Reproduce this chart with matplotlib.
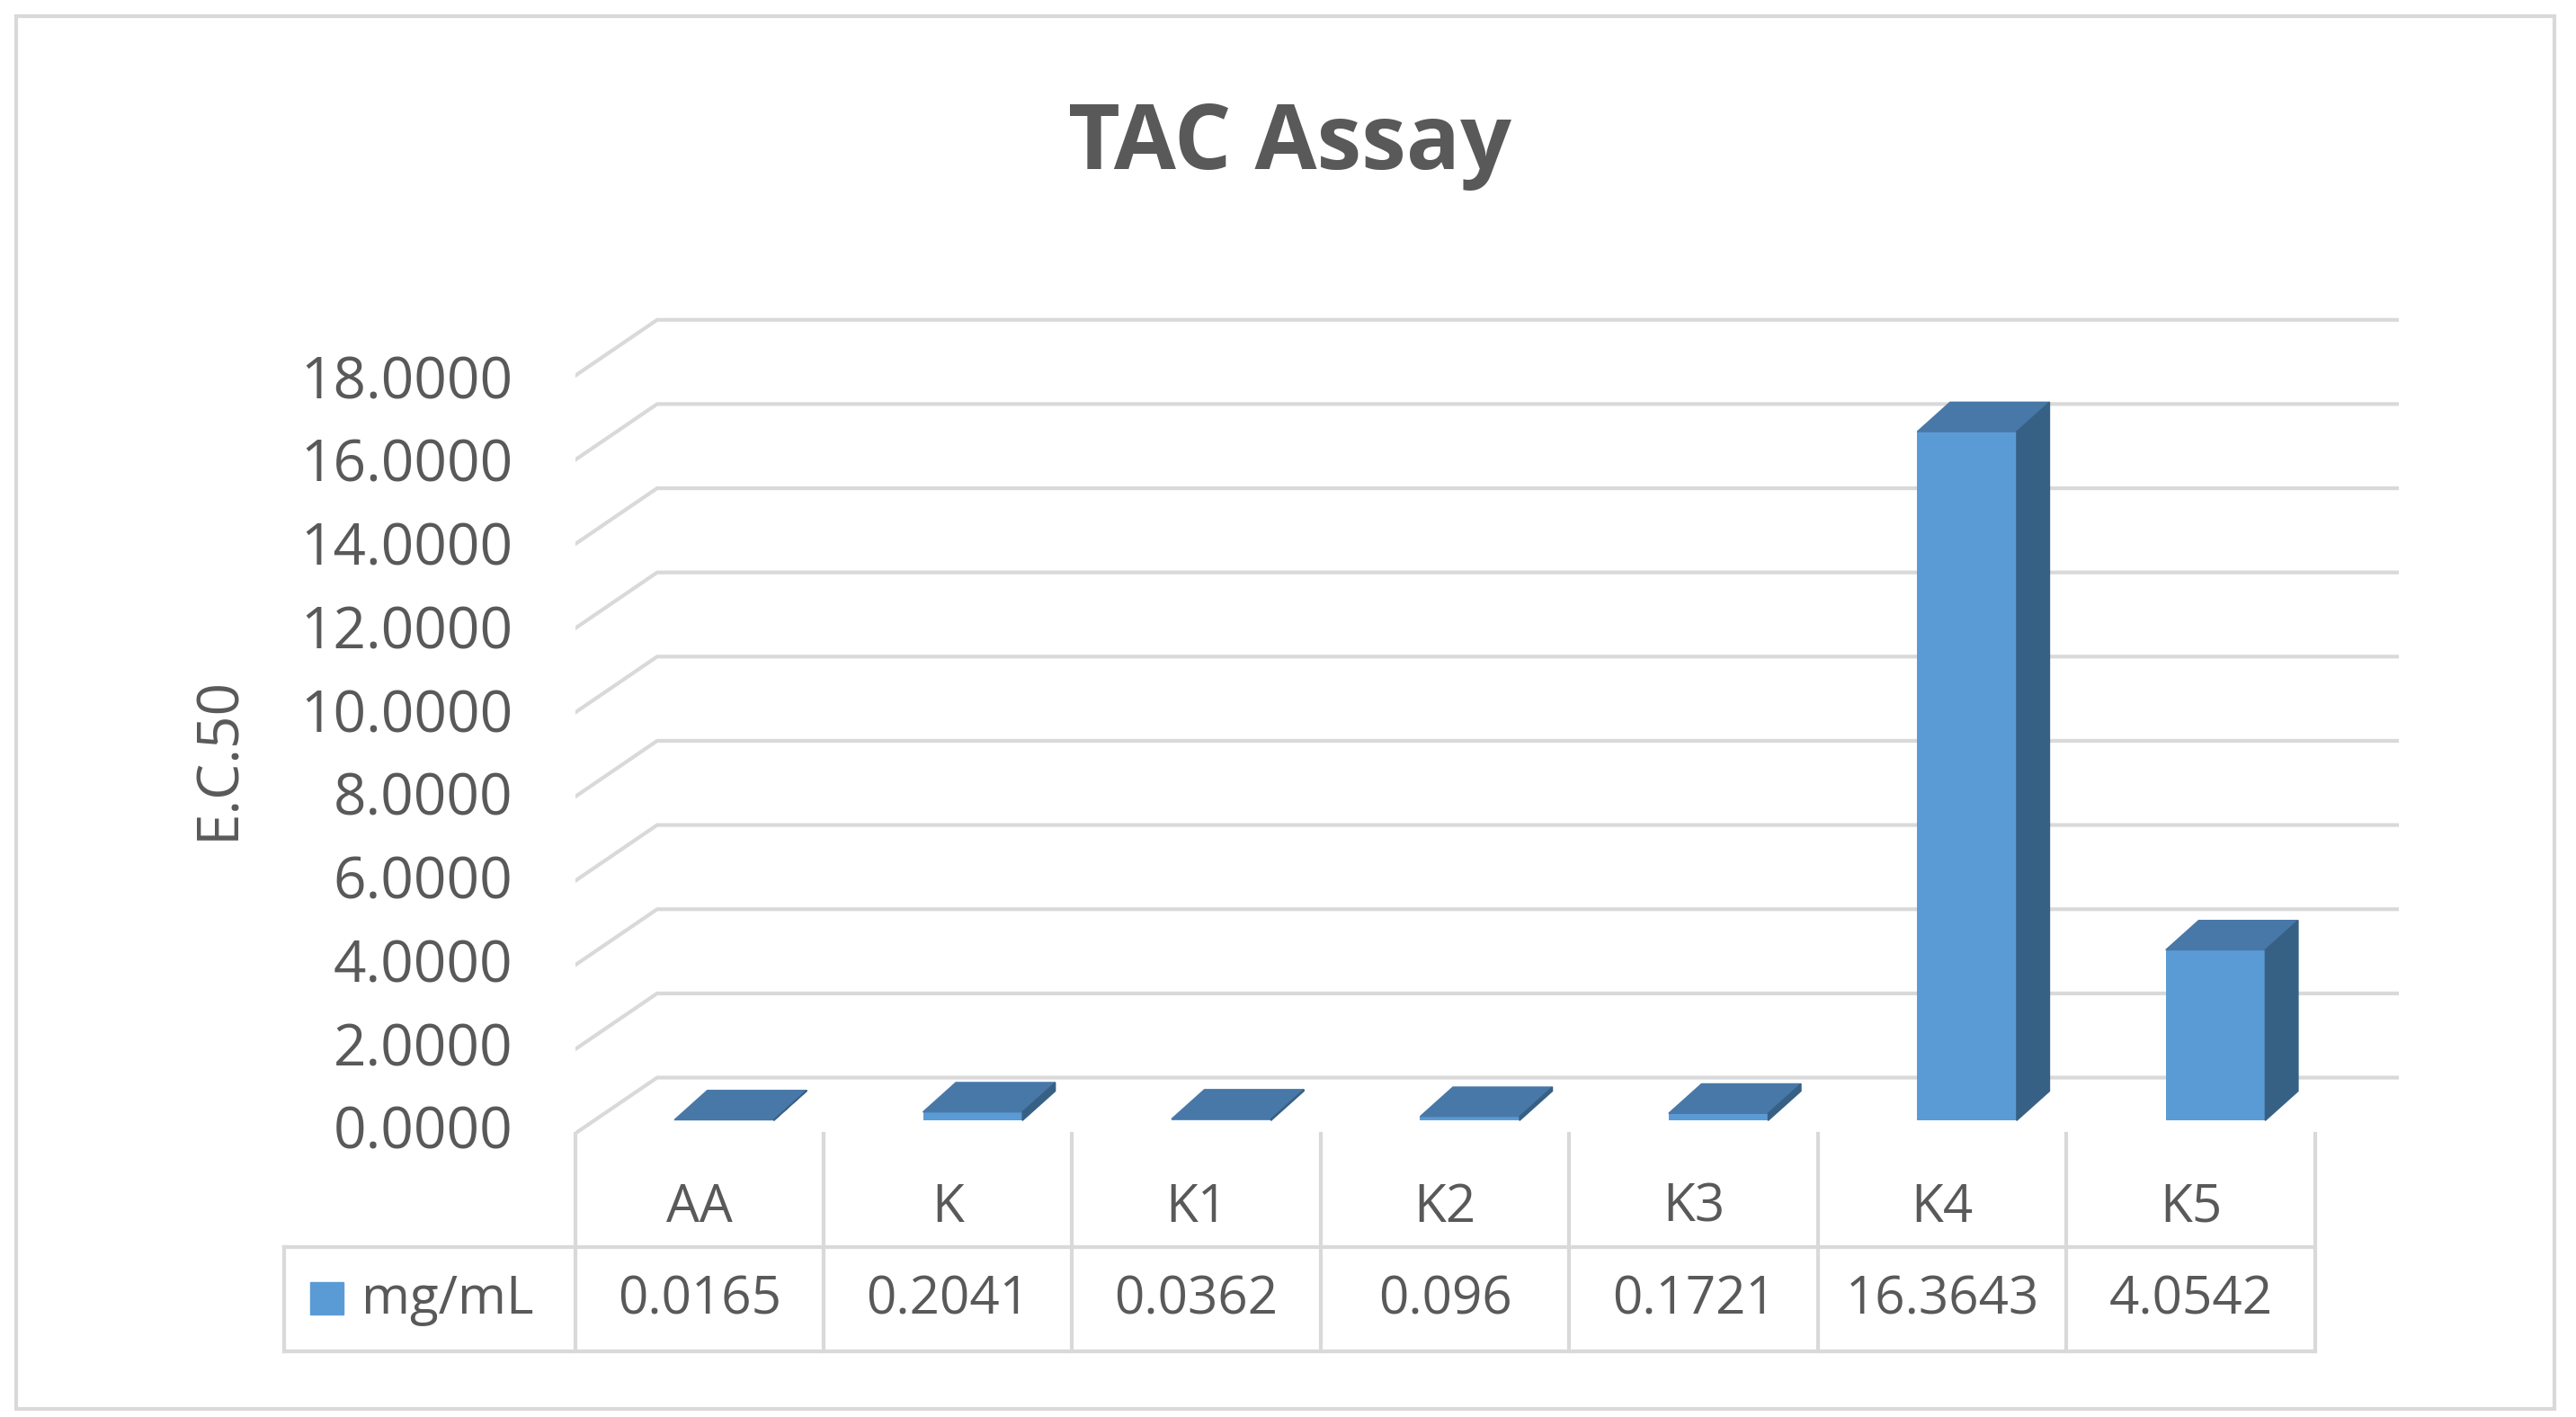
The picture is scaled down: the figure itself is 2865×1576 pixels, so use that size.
import numpy as np
import matplotlib.pyplot as plt
from matplotlib.patches import Polygon, Rectangle

categories = ['AA', 'K', 'K1', 'K2', 'K3', 'K4', 'K5']
values = [0.0165, 0.2041, 0.0362, 0.096, 0.1721, 16.3643, 4.0542]
value_labels = ['0.0165', '0.2041', '0.0362', '0.096', '0.1721', '16.3643', '4.0542']
yticks = np.arange(0, 20, 2)

plt.rcParams['font.family'] = ['Open Sans', 'DejaVu Sans']
W, H = 1568.0, 860.0
grey = '#595959'
line = '#d9d9d9'
front, top, side = '#5b9bd5', '#4878a8', '#376085'

fig = plt.figure(figsize=(28.65, 15.76), dpi=100)

# overlay in reference pixel coords for frame, title, table
ov = fig.add_axes([0, 0, 1, 1])
ov.set_xlim(0, W); ov.set_ylim(H, 0); ov.axis('off')
ov.add_patch(Rectangle((10, 10), 1545, 845, fill=False, ec=line, lw=3))
ov.text(785, 88, 'TAC Assay', ha='center', va='center', fontsize=72, fontweight='bold', color=grey)
ov.text(133, 460, 'E.C.50', ha='center', va='center', rotation=90, fontsize=46, color=grey)

cw = 151.3
xs = [350 + i * cw for i in range(len(categories) + 1)]
for x in xs:
    ov.plot([x, x], [688, 820], color=line, lw=3)
ov.plot([173, 173], [757, 820], color=line, lw=3)
ov.plot([173, xs[-1]], [757, 757], color=line, lw=3)
ov.plot([173, xs[-1]], [820, 820], color=line, lw=3)
for i, (c, v) in enumerate(zip(categories, value_labels)):
    cx = (xs[i] + xs[i + 1]) / 2
    ov.text(cx, 733, c, ha='center', va='center', fontsize=42, color=grey)
    ov.text(cx, 789, v, ha='center', va='center', fontsize=42, color=grey)
ov.add_patch(Rectangle((189, 778), 20, 20, color=front))
ov.text(220, 789, 'mg/mL', ha='left', va='center', fontsize=42, color=grey)

# main chart axes
ax = fig.add_axes([350 / W, 1 - 688 / H, 1110 / W, (688 - 185) / H])
ax.patch.set_alpha(0)
ylo = -0.31
ax.set_xlim(0, 1110 / cw)
ax.set_ylim(ylo, ylo + (688 - 185) / 25.55)
ax.axis('off')

bdx, bdy = 50 / cw, 1.33
for t in yticks:
    ax.plot([0, bdx, 1110 / cw], [t + ylo, t + ylo + bdy, t + ylo + bdy],
            color=line, lw=3, zorder=1)
    ov.text(312, 688 - 25.3 * t, '%.4f' % t, ha='right', va='center', fontsize=46, color=grey)

xpos = np.arange(len(categories)) + 0.6
bw, dx, dy = 0.4, 20 / cw, 0.7
ax.bar(xpos, values, width=bw, color=front, zorder=3)
for x, v in zip(xpos, values):
    l, r = x - bw / 2, x + bw / 2
    ax.add_patch(Polygon([(l, v), (r, v), (r + dx, v + dy), (l + dx, v + dy)],
                         closed=True, color=top, zorder=3))
    ax.add_patch(Polygon([(r, 0), (r, v), (r + dx, v + dy), (r + dx, dy)],
                         closed=True, color=side, zorder=3))

fig.savefig('out.png', dpi=100)
